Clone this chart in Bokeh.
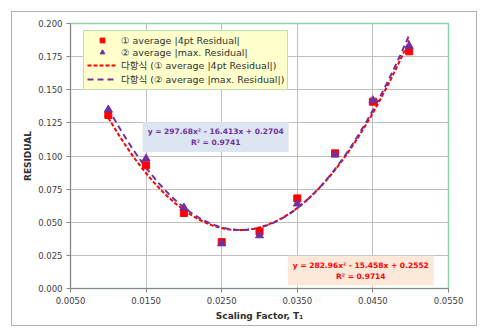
import numpy as np
from bokeh.plotting import figure
from bokeh.models import (FixedTicker, NumeralTickFormatter, Legend, LegendItem,
                          Label, Range1d)
from bokeh.embed import file_html
from bokeh.resources import INLINE

# data
x_vals = [0.010, 0.015, 0.020, 0.025, 0.030, 0.035, 0.040, 0.045, 0.0498]
avg_4pt = [0.131, 0.093, 0.057, 0.035, 0.043, 0.068, 0.102, 0.141, 0.179]
avg_max = [0.135, 0.098, 0.061, 0.034, 0.040, 0.064, 0.101, 0.142, 0.183]
fit_4pt = [282.96, -15.458, 0.2552]
fit_max = [297.68, -16.413, 0.2704]
r2_4pt = 0.9714
r2_max = 0.9741
x_ticks = [0.005, 0.015, 0.025, 0.035, 0.045, 0.055]
y_ticks = [0.0, 0.025, 0.05, 0.075, 0.1, 0.125, 0.15, 0.175, 0.2]

RED = "#FF0000"
PURPLE = "#7030A0"
FONT = "DejaVu Sans, 'Noto Sans CJK KR'"

p = figure(width=464, height=313, output_backend="svg", toolbar_location=None,
           x_range=Range1d(0.005, 0.055), y_range=Range1d(0.0, 0.2),
           frame_width=378, frame_height=265,
           min_border_left=58, min_border_right=28, min_border_top=11, min_border_bottom=37,
           margin=(12, 0, 0, 12),
           styles={"outline": "1px solid #B0B0B0"})
p.background_fill_color = "white"
p.border_fill_color = "white"
p.outline_line_color = "#8FD3A8"
p.outline_line_width = 1.5

for ax, ticks, fmt in ((p.xaxis, x_ticks, "0.0000"), (p.yaxis, y_ticks, "0.000")):
    ax.ticker = FixedTicker(ticks=ticks)
    ax.formatter = NumeralTickFormatter(format=fmt)
    ax.axis_line_color = "#868686"
    ax.major_tick_line_color = "#868686"
    ax.major_tick_out = 4
    ax.major_tick_in = 0
    ax.minor_tick_line_color = None
    ax.major_label_text_font = FONT
    ax.major_label_text_font_size = "8.5px"
    ax.major_label_text_color = "#404040"
    ax.axis_label_text_font = FONT
    ax.axis_label_text_font_style = "bold"
    ax.axis_label_text_font_size = "9px"
    ax.axis_label_text_color = "#303030"
p.xaxis.axis_label = "Scaling Factor, T\u2081"
p.yaxis.axis_label = "RESIDUAL"
p.xaxis.major_label_standoff = 4
p.xaxis.axis_label_standoff = 4
p.yaxis.major_label_standoff = 4
p.yaxis.axis_label_standoff = 2

p.xgrid.ticker = FixedTicker(ticks=x_ticks)
p.ygrid.ticker = FixedTicker(ticks=y_ticks)
p.grid.grid_line_color = "#BFBFBF"
p.grid.grid_line_width = 1

# trendlines (from the displayed fit coefficients)
xs = np.linspace(min(x_vals), max(x_vals), 100)
l1 = p.line(xs, np.polyval(fit_4pt, xs), line_color=RED, line_width=2, line_dash="4 2")
l2 = p.line(xs, np.polyval(fit_max, xs), line_color=PURPLE, line_width=2, line_dash="6 4")

s1 = p.scatter(x_vals, avg_4pt, marker="square", size=7, fill_color=RED, line_color=RED)
s2 = p.scatter(x_vals, avg_max, marker="triangle", size=8, fill_color=PURPLE, line_color=PURPLE)

legend = Legend(items=[
    LegendItem(label="\u2460 average |4pt Residual|", renderers=[s1]),
    LegendItem(label="\u2461 average |max. Residual|", renderers=[s2]),
    LegendItem(label="\ub2e4\ud56d\uc2dd (\u2460 average |4pt Residual|)", renderers=[l1]),
    LegendItem(label="\ub2e4\ud56d\uc2dd (\u2461 average |max. Residual|)", renderers=[l2]),
], location=(13, 198))
legend.background_fill_color = "#FFFFCC"
legend.background_fill_alpha = 1
legend.border_line_color = "#7CC58A"
legend.border_line_width = 1.5
legend.label_text_font = FONT
legend.label_text_font_size = "9.5px"
legend.label_text_color = "#303030"
legend.label_height = 12
legend.glyph_height = 12
legend.glyph_width = 30
legend.spacing = 0
legend.padding = 3
legend.margin = 0
legend.label_standoff = 4
p.add_layout(legend, "center")

def fit_text(c, r2):
    return "y = %.2fx\u00b2 - %.3fx + %.4f\nR\u00b2 = %.4f" % (c[0], -c[1], c[2], r2)

lab_max = Label(x=0.0242, y=0.1143, text=fit_text(fit_max, r2_max), text_align="center",
                text_baseline="middle", text_font=FONT, text_font_size="7.5px",
                text_font_style="bold", text_color=PURPLE,
                background_fill_color="#DCE6F2", padding=5)
lab_4pt = Label(x=0.0434, y=0.0135, text=fit_text(fit_4pt, r2_4pt), text_align="center",
                text_baseline="middle", text_font=FONT, text_font_size="7.5px",
                text_font_style="bold", text_color=RED,
                background_fill_color="#FDE9D9", padding=5)
p.add_layout(lab_max)
p.add_layout(lab_4pt)

open("out.html", "w").write(file_html(p, INLINE))
